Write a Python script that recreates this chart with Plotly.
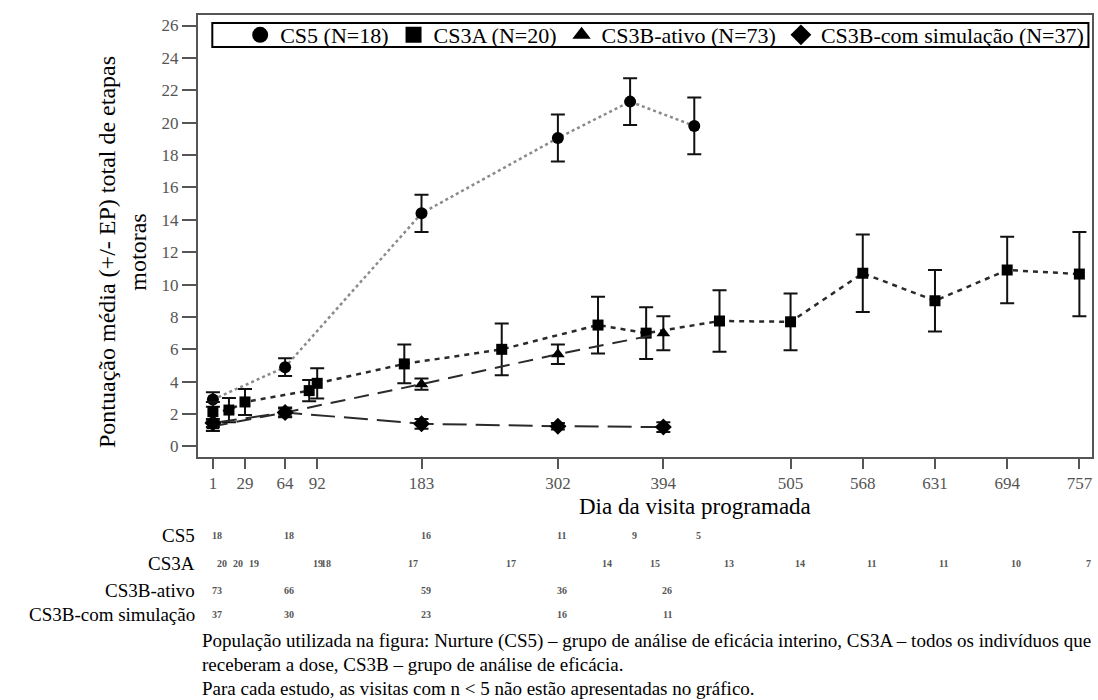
import plotly.graph_objects as go

# visit days per study
cs5_days = [1, 64, 183, 302, 365, 421]
cs3a_days = [1, 15, 29, 85, 92, 168, 253, 337, 379, 443, 505, 568, 631, 694, 757]
cs3b_days = [1, 64, 183, 302, 394]

# mean score and standard error
cs5_mean = [2.9, 4.9, 14.4, 19.05, 21.3, 19.8]
cs5_se = [0.45, 0.55, 1.15, 1.45, 1.45, 1.75]
cs3a_mean = [2.15, 2.25, 2.75, 3.45, 3.9, 5.1, 6.0, 7.5, 7.0, 7.75, 7.7, 10.7, 9.0, 10.9, 10.65]
cs3a_se = [0.6, 0.75, 0.8, 0.65, 0.93, 1.2, 1.6, 1.75, 1.6, 1.9, 1.75, 2.4, 1.9, 2.05, 2.6]
ativo_mean = [1.25, 2.1, 3.85, 5.7, 7.0]
ativo_se = [0.3, 0.3, 0.35, 0.6, 1.05]
sim_mean = [1.45, 2.1, 1.4, 1.25, 1.2]
sim_se = [0.25, 0.25, 0.3, 0.2, 0.3]

# number of subjects per visit (table under the chart)
cs5_n = [18, 18, 16, 11, 9, 5]
cs3a_n = [20, 20, 19, 19, 18, 17, 17, 14, 15, 13, 14, 11, 11, 10, 7]
ativo_n = [73, 66, 59, 36, 26]
sim_n = [37, 30, 23, 16, 11]

x_ticks = [1, 29, 64, 92, 183, 302, 394, 505, 568, 631, 694, 757]
y_ticks = list(range(0, 27, 2))

legend_names = ["CS5 (N=18)", "CS3A (N=20)", "CS3B-ativo (N=73)", "CS3B-com simulação (N=37)"]
row_names = ["CS5", "CS3A", "CS3B-ativo", "CS3B-com simulação"]

SERIF = "Liberation Serif, Times New Roman, serif"
TOP, PLOT_H = 15, 442


def ypaper(px):
    # page pixel row -> paper coordinate
    return 1 - (px - TOP) / PLOT_H


series = [
    (cs5_days, cs5_mean, cs5_se, "circle", 12, dict(color="#8a8a8a", width=2.5, dash="dot")),
    (cs3a_days, cs3a_mean, cs3a_se, "square", 11, dict(color="#2a2a2a", width=2.5, dash="5px,5px")),
    (cs3b_days, ativo_mean, ativo_se, "triangle-up", 12, dict(color="#2a2a2a", width=2, dash="15px,9px")),
    (cs3b_days, sim_mean, sim_se, "diamond", 13, dict(color="#2a2a2a", width=2, dash="24px,9px")),
]

fig = go.Figure()
for days, mean, se, sym, size, line in series:
    fig.add_trace(go.Scatter(
        x=days, y=mean, mode="lines+markers", showlegend=False,
        line=line,
        marker=dict(symbol=sym, size=size, color="black"),
        error_y=dict(type="data", array=se, visible=True, color="#111",
                     thickness=2, width=7),
    ))

# legend entries: markers only
for (days, mean, se, sym, size, line), name in zip(series, legend_names):
    fig.add_trace(go.Scatter(
        x=[None], y=[None], mode="markers", name=name,
        marker=dict(symbol=sym, size=16, color="black"),
    ))

# legend frame
fig.add_shape(type="rect", xref="paper", yref="paper",
              x0=0.016, x1=0.996, y0=ypaper(47), y1=ypaper(23),
              line=dict(color="black", width=2), fillcolor="white", layer="below")

# n-per-visit table
rows = [(cs5_days, cs5_n, 4), (cs3a_days, cs3a_n, 9), (cs3b_days, ativo_n, 4), (cs3b_days, sim_n, 4)]
row_y = [535, 563, 590, 614]
for (days, counts, shift), ypx, label in zip(rows, row_y, row_names):
    fig.add_annotation(x=0, xref="paper", y=ypaper(ypx), yref="paper", text=label,
                       showarrow=False, xanchor="right", yanchor="middle", xshift=-1,
                       font=dict(family=SERIF, size=19, color="black"))
    for d, n in zip(days, counts):
        fig.add_annotation(x=d, xref="x", y=ypaper(ypx), yref="paper", text="<b>%d</b>" % n,
                           showarrow=False, xanchor="center", yanchor="middle", xshift=shift,
                           font=dict(family=SERIF, size=10, color="#555"))

# axis titles
fig.add_annotation(x=-0.085, xref="paper", y=ypaper(252), yref="paper",
                   text="Pontuação média (+/- EP) total de etapas<br>motoras",
                   textangle=-90, showarrow=False, xanchor="center", yanchor="middle",
                   font=dict(family=SERIF, size=24, color="black"))
fig.add_annotation(x=(695 - 198) / 894, xref="paper", y=ypaper(506), yref="paper",
                   text="Dia da visita programada", showarrow=False,
                   xanchor="center", yanchor="middle",
                   font=dict(family=SERIF, size=23, color="black"))

# footnotes
notes = [
    "População utilizada na figura: Nurture (CS5) – grupo de análise de eficácia interino, CS3A – todos os indivíduos que",
    "receberam a dose, CS3B – grupo de análise de eficácia.",
    "Para cada estudo, as visitas com n &lt; 5 não estão apresentadas no gráfico.",
]
for txt, ypx in zip(notes, [641, 664, 688]):
    fig.add_annotation(x=0.002, xref="paper", y=ypaper(ypx), yref="paper",
                       text=txt, showarrow=False, xanchor="left", yanchor="middle",
                       font=dict(family=SERIF, size=19, color="black"))

fig.update_layout(
    width=1098, height=700,
    margin=dict(l=198, r=6, t=TOP, b=700 - TOP - PLOT_H),
    paper_bgcolor="white", plot_bgcolor="white",
    legend=dict(orientation="h", x=0.522, xanchor="center", y=ypaper(35), yanchor="middle",
                bgcolor="rgba(0,0,0,0)", font=dict(family=SERIF, size=22, color="black"),
                itemwidth=30, tracegroupgap=0),
    font=dict(family=SERIF),
)
fig.update_xaxes(
    range=[-12, 768], tickvals=x_ticks, ticktext=[str(t) for t in x_ticks],
    showgrid=False, zeroline=False, showline=True, linecolor="#555", linewidth=2,
    mirror=True, ticks="outside", ticklen=10, tickwidth=2, tickcolor="#555",
    tickfont=dict(family=SERIF, size=17, color="#555"), automargin=False,
)
fig.update_yaxes(
    range=[-0.65, 26.65], tickvals=y_ticks,
    showgrid=False, zeroline=False, showline=True, linecolor="#555", linewidth=2,
    mirror=True, ticks="outside", ticklen=14, tickwidth=2, tickcolor="#555",
    tickfont=dict(family=SERIF, size=17, color="#555"), automargin=False,
)

fig.write_html("out.html", config={"displayModeBar": False},
               post_script="document.body.style.margin='0px';")
